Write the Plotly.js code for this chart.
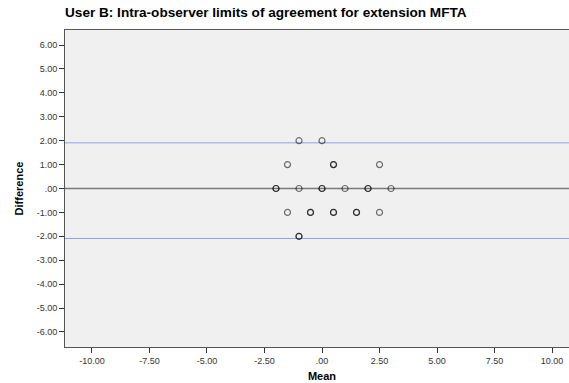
<!DOCTYPE html>
<html>
<head>
<meta charset="utf-8">
<script src="https://cdn.plot.ly/plotly-3.0.1.min.js"></script>
<style>
html,body{margin:0;padding:0;overflow:hidden;background:#fff;}
#chart{width:584px;height:383px;}
</style>
</head>
<body>
<div id="chart"></div>
<script>
// Bland-Altman data: mean of two measurements vs difference (duplicates included)
const meanValues = [-1, 0,
  -1.5, 0.5, 0.5, 2.5,
  -2, -2, -1, 0, 0, 1, 2, 2, 3,
  -1.5, -0.5, -0.5, 0.5, 0.5, 1.5, 1.5, 2.5,
  -1, -1];
const diffValues = [2, 2,
  1, 1, 1, 1,
  0, 0, 0, 0, 0, 0, 0, 0, 0,
  -1, -1, -1, -1, -1, -1, -1, -1,
  -2, -2];
const upperLoA = 1.91;
const lowerLoA = -2.09;
const refLine = 0;
const xTickVals = [-10, -7.5, -5, -2.5, 0, 2.5, 5, 7.5, 10];
const xTickText = ["-10.00", "-7.50", "-5.00", "-2.50", ".00", "2.50", "5.00", "7.50", "10.00"];
const yTickVals = [6, 5, 4, 3, 2, 1, 0, -1, -2, -3, -4, -5, -6];
const yTickText = ["6.00", "5.00", "4.00", "3.00", "2.00", "1.00", ".00", "-1.00", "-2.00", "-3.00", "-4.00", "-5.00", "-6.00"];

const W = 584, H = 383;
const trace = {
  x: meanValues, y: diffValues, type: 'scatter', mode: 'markers',
  marker: {symbol: 'circle-open', size: 6, color: 'rgba(0,0,0,0.55)', line: {width: 1.2, color: 'rgba(0,0,0,0.55)'}},
  hoverinfo: 'skip', showlegend: false
};
const layout = {
  width: W, height: H,
  margin: {l: 65, r: 5, t: 30, b: 36},
  paper_bgcolor: '#ffffff', plot_bgcolor: '#f0f0f0',
  font: {family: '"Liberation Sans", Arial, sans-serif', color: '#222'},
  title: {text: 'User B: Intra-observer limits of agreement for extension MFTA',
    font: {size: 13.6, color: '#000', weight: 'bold'},
    x: 65 / W, xanchor: 'left', xref: 'container', y: 1 - 12 / H, yanchor: 'middle', yref: 'container'},
  xaxis: {range: [-11.17, 11.17], tickvals: xTickVals, ticktext: xTickText,
    ticks: 'outside', ticklen: 5, tickcolor: '#333', tickwidth: 1,
    showgrid: false, zeroline: false, showline: true, linecolor: '#555', linewidth: 1, mirror: true,
    tickfont: {size: 9, color: '#333'},
    title: {text: 'Mean', font: {size: 11, color: '#000', weight: 'bold'}, standoff: 7}},
  yaxis: {range: [-6.63, 6.63], tickvals: yTickVals, ticktext: yTickText,
    ticks: 'outside', ticklen: 5, tickcolor: '#333', tickwidth: 1,
    showgrid: false, zeroline: false, showline: true, linecolor: '#555', linewidth: 1, mirror: true,
    tickfont: {size: 9, color: '#333'},
    title: {text: 'Difference', font: {size: 11, color: '#000', weight: 'bold'}, standoff: 10}},
  shapes: [
    {type: 'line', xref: 'paper', x0: 0, x1: 1, yref: 'y', y0: refLine, y1: refLine, line: {color: '#7a7a7a', width: 1.5}, layer: 'below'},
    {type: 'line', xref: 'paper', x0: 0, x1: 1, yref: 'y', y0: upperLoA, y1: upperLoA, line: {color: '#9a9aee', width: 1}, layer: 'below'},
    {type: 'line', xref: 'paper', x0: 0, x1: 1, yref: 'y', y0: lowerLoA, y1: lowerLoA, line: {color: '#9a9aee', width: 1}, layer: 'below'}
  ]
};
Plotly.newPlot('chart', [trace], layout, {displayModeBar: false, staticPlot: true});
</script>
</body>
</html>
